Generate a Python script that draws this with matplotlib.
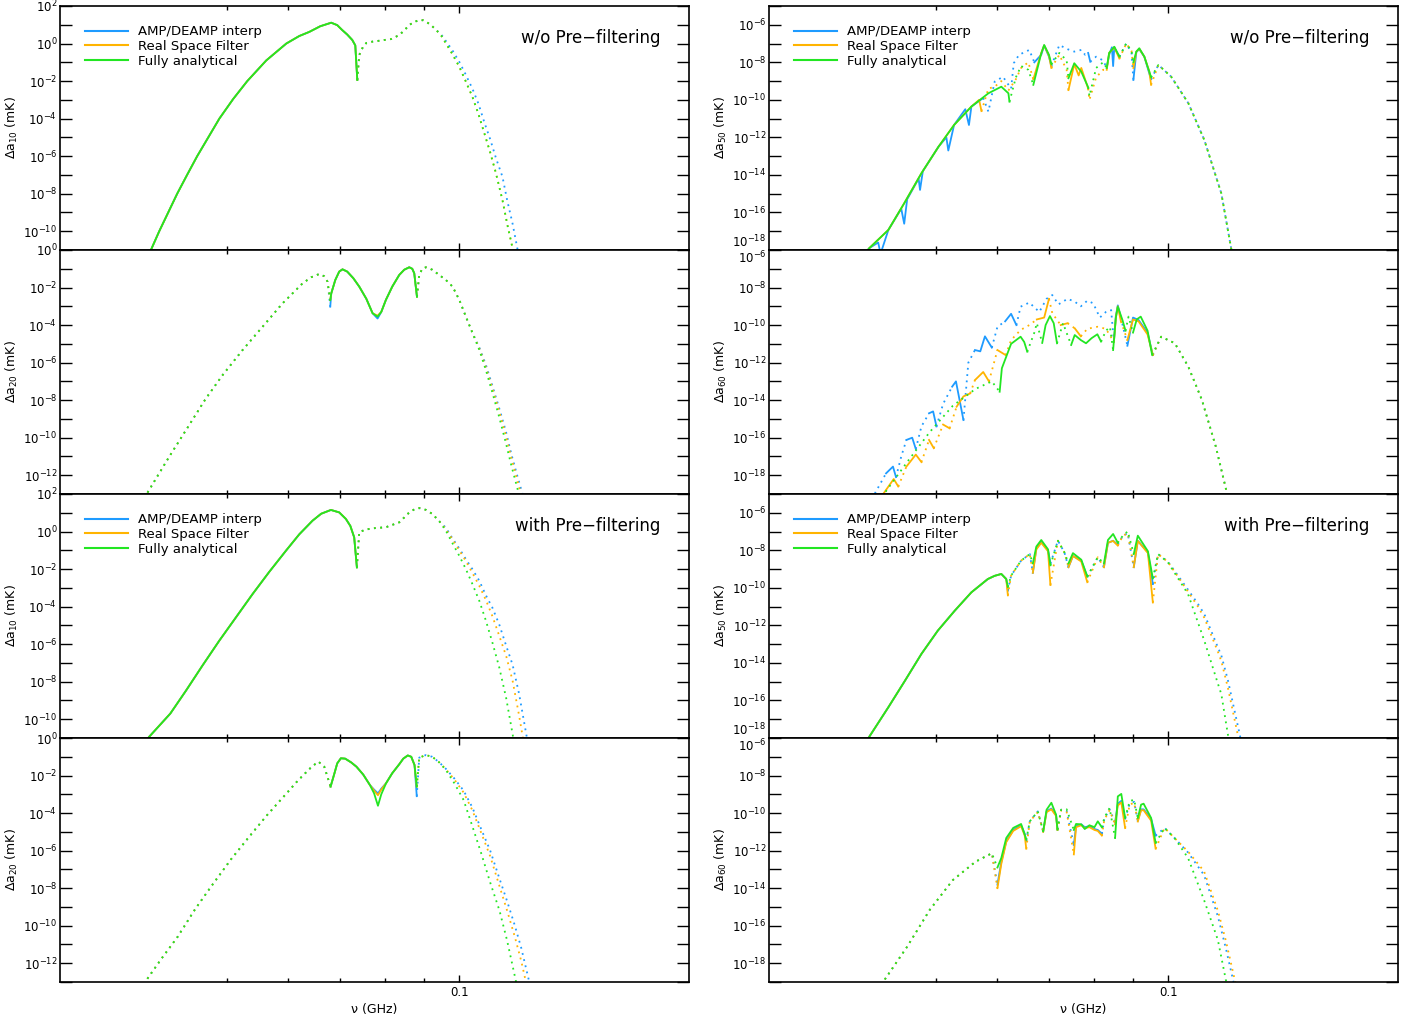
import numpy as np
import matplotlib
matplotlib.use("Agg")
import matplotlib.pyplot as plt
from matplotlib.lines import Line2D
from matplotlib.ticker import FixedLocator, FuncFormatter, NullLocator, NullFormatter

plt.rcParams['font.family'] = ['DejaVu Sans']
plt.rcParams['mathtext.fontset'] = 'dejavusans'

# values are log10 |delta a| in mK; '+' = positive (solid), '-' = negative (dotted)
BLUE, ORANGE, GREEN = '#1E9BFF', '#FFB400', '#22E622'
names = ["AMP/DEAMP interp", "Real Space Filter", "Fully analytical"]

# ---- left column, a10 without pre-filtering
L1_nu = [0.03957, 0.04077, 0.04188, 0.04302, 0.04431, 0.04567, 0.04721, 0.0488, 0.05087, 0.05305, 0.05615,
         0.05962, 0.06197, 0.06386, 0.06598, 0.06819, 0.06943, 0.07046, 0.07153, 0.07262, 0.07328, 0.07372,
         0.07415, 0.07504, 0.07574, 0.07709, 0.07873, 0.08161, 0.08357, 0.08484, 0.08612, 0.08741, 0.08872,
         0.0898, 0.0906, 0.09197, 0.09336, 0.09476, 0.0961, 0.09793, 0.1, 0.1018, 0.1040, 0.1059, 0.1078,
         0.1097, 0.1116, 0.1138, 0.1154, 0.1173, 0.1196]
L1_green = [-11.2, -10.0, -9.0, -8.0, -7.0, -6.0, -5.0, -4.0, -2.95, -2.0, -0.9, 0.0, 0.4, 0.62, 0.92, 1.11,
            0.98, 0.72, 0.48, 0.19, -0.1, -1.94,
            -0.61, -0.15, 0.03, 0.1, 0.15, 0.24, 0.45, 0.7, 0.99, 1.15, 1.25, 1.24, 1.16, 0.97, 0.72, 0.42,
            0.01, -0.55, -1.23, -1.95, -2.83, -3.75, -4.78, -5.8, -6.91, -8.34, -9.6, -10.91, -13.0]
L1_orange = list(L1_green)
L1_blue = L1_green[:37] + [0.48, 0.13, -0.35, -0.97, -1.6, -2.4, -3.2, -4.2, -5.1, -6.1, -7.1, -8.34, -9.6, -11.4]
L1_sign = "+" * 22 + "-" * 29

# ---- left column, a20 without pre-filtering
L2_nu = [0.03841, 0.03936, 0.04201, 0.0446, 0.04689, 0.04929, 0.05231, 0.05553, 0.05896, 0.06258, 0.06425,
         0.06579, 0.06679, 0.06745, 0.06799,
         0.0682, 0.06902, 0.06984, 0.07053, 0.07153, 0.07284, 0.07415, 0.07574, 0.07717, 0.07833, 0.0792,
         0.0803, 0.08185, 0.08357, 0.08484, 0.08612, 0.08689, 0.08741, 0.08812,
         0.08872, 0.08953, 0.09053, 0.09224, 0.0942, 0.0961, 0.09802, 0.1, 0.1020, 0.1040, 0.1062, 0.1083,
         0.1105, 0.1127, 0.1150, 0.1169, 0.1190, 0.1214]
L2_green = [-14.2, -12.93, -11.01, -9.32, -7.9, -6.66, -5.33, -4.09, -2.84, -1.78, -1.45, -1.28, -1.4, -1.69, -2.67,
            -2.31, -1.6, -1.15, -1.03, -1.15, -1.5, -1.95, -2.6, -3.37, -3.55, -3.3, -2.66, -1.95, -1.33, -1.05,
            -0.92, -1.0, -1.24, -2.49,
            -1.33, -1.0, -0.92, -1.05, -1.33, -1.6, -1.95, -2.65, -3.55, -4.4, -5.33, -6.4, -7.64, -8.9, -10.3,
            -11.5, -12.7, -14.2]
L2_blue = (L2_green[:14] + [-3.02] + L2_green[15:24] + [-3.65] + L2_green[25:44]
           + [-5.2, -6.12, -7.28, -8.43, -9.68, -10.9, -12.05, -13.3])
L2_orange = L2_green[:24] + [-3.5] + L2_green[25:44] + [-5.25, -6.25, -7.4, -8.6, -9.9, -11.1, -12.3, -13.6]
L2_sign = "-" * 15 + "+" * 19 + "-" * 18

# ---- left column, a10 with pre-filtering
L3_nu = [0.03841, 0.03957, 0.04214, 0.04416, 0.04638, 0.0488, 0.05133, 0.0539, 0.05665, 0.05956, 0.06197,
         0.06449, 0.06618, 0.06813, 0.06984, 0.07125, 0.0722, 0.07304, 0.07363,
         0.07415, 0.0755, 0.07717, 0.0803, 0.08357, 0.08484, 0.08612, 0.08741, 0.08872, 0.0906, 0.09232,
         0.0942, 0.0961, 0.09793, 0.1, 0.1020, 0.1040, 0.1062, 0.1083, 0.1104, 0.1127, 0.1151, 0.1173,
         0.1196, 0.1233]
L3_green = [-11.6, -10.93, -9.7, -8.48, -7.15, -5.81, -4.55, -3.33, -2.15, -1.02, -0.15, 0.58, 0.95, 1.15,
            1.02, 0.67, 0.3, -0.31, -1.91,
            -0.04, 0.1, 0.17, 0.23, 0.49, 0.75, 1.02, 1.18, 1.25, 1.15, 0.93, 0.55, 0.04, -0.6, -1.29, -2.0,
            -2.79, -3.7, -4.75, -5.9, -7.23, -8.9, -10.79, -13.0, -16.0]
L3_orange = L3_green[:31] + [0.12, -0.4, -1.0, -1.57, -2.2, -2.9, -3.65, -4.5, -5.55, -6.65, -7.95, -9.8, -13.0]
L3_blue = L3_green[:31] + [0.2, -0.35, -0.9, -1.47, -2.0, -2.63, -3.4, -4.05, -4.95, -6.1, -7.1, -8.65, -11.7]
L3_sign = "+" * 19 + "-" * 25

# ---- left column, a20 with pre-filtering
L4_nu = [0.03841, 0.03925, 0.04114, 0.04308, 0.04542, 0.04795, 0.05056, 0.05335, 0.05631, 0.05939, 0.06178,
         0.06433, 0.06563, 0.06679, 0.06806,
         0.06883, 0.06943, 0.07019, 0.0711, 0.07238, 0.07354, 0.07504, 0.07654, 0.07752, 0.07842, 0.0792,
         0.08037, 0.08183, 0.08357, 0.08459, 0.08573, 0.08663, 0.08748, 0.08807,
         0.08872, 0.09047, 0.09224, 0.0942, 0.09607, 0.09851, 0.1013, 0.1040, 0.1069, 0.1097, 0.1128, 0.1154,
         0.1181, 0.1204, 0.1233]
L4_green = [-14.1, -12.89, -11.7, -10.59, -9.1, -7.74, -6.45, -5.26, -4.1, -3.04, -2.25, -1.53, -1.26, -1.53, -2.59,
            -1.9, -1.35, -1.08, -1.1, -1.3, -1.53, -1.95, -2.5, -2.95, -3.61, -3.0, -2.4, -1.88, -1.4, -1.1,
            -0.93, -1.0, -1.44, -2.59,
            -1.05, -0.91, -1.0, -1.3, -1.7, -2.4, -3.3, -4.7, -6.2, -7.7, -9.2, -10.8, -12.7, -14.3, -16.0]
L4_blue = (L4_green[:23] + [-2.75, -2.95, -2.7] + L4_green[26:33] + [-3.1] + L4_green[34:38]
           + [-1.64, -2.15, -2.8, -3.7, -4.9, -6.0, -7.5, -8.7, -10.0, -11.2, -13.0])
L4_orange = (L4_green[:23] + [-2.8, -3.05, -2.75] + L4_green[26:38]
             + [-1.66, -2.2, -2.9, -3.85, -5.1, -6.3, -7.9, -9.2, -10.6, -11.9, -13.8])
L4_sign = "-" * 15 + "+" * 19 + "-" * 15

# ---- right column, a50 without pre-filtering
R1_green_nu = [0.0400, 0.0409, 0.0433, 0.0454, 0.0478, 0.0503, 0.0527, 0.0555, 0.0584, 0.0607, 0.0620, 0.0622,
               0.0634, 0.0644, 0.0658, 0.0668, 0.0684, 0.0690, 0.0700, 0.0705, 0.0722, 0.0738, 0.0742,
               0.0755, 0.0771, 0.0787, 0.0790, 0.0806, 0.0823, 0.0832, 0.0838, 0.0851, 0.0864,
               0.0882, 0.0896, 0.0901, 0.0909, 0.0917, 0.0931, 0.0945, 0.0950,
               0.0971, 0.1009, 0.1062, 0.1114, 0.1172, 0.1207, 0.1244]
R1_green = [-18.4, -17.9, -16.93, -15.51, -13.91, -12.5, -11.34, -10.36, -9.65, -9.3, -9.65, -10.1,
            -8.8, -8.2, -8.4, -9.2, -7.52, -7.08, -7.6, -8.1, -7.5, -7.9, -8.85,
            -8.05, -8.5, -9.33, -9.8, -8.3, -8.0, -8.3, -7.5, -7.17, -7.7,
            -6.99, -7.4, -8.0, -7.43, -7.25, -7.7, -8.5, -8.8,
            -8.14, -8.77, -10.18, -12.14, -14.98, -17.91, -20.0]
R1_green_sign = "+" * 12 + "-" * 4 + "+" * 4 + "-" * 3 + "+" * 3 + "-" * 4 + "+" * 3 + "-" * 3 + "+" * 5 + "-" * 7

R1_blue_nu = [0.0400, 0.0409, 0.0420, 0.0423, 0.0433, 0.0450, 0.0454, 0.0458, 0.0474, 0.0476, 0.0480, 0.0503,
              0.0515, 0.0518, 0.0527, 0.0545, 0.0551, 0.0555, 0.0575,
              0.0584, 0.0595, 0.0610, 0.0625, 0.0630, 0.0640, 0.0660, 0.0670,
              0.0684, 0.0690, 0.0700, 0.0705,
              0.0722, 0.0740, 0.0755, 0.0771, 0.0780, 0.0787,
              0.0792,
              0.0806, 0.0823, 0.0832,
              0.0838, 0.0845, 0.0848, 0.0851, 0.0864,
              0.0882, 0.0896, 0.0901,
              0.0909, 0.0917, 0.0931, 0.0945, 0.0950,
              0.0971, 0.1009, 0.1062, 0.1114, 0.1172, 0.1207, 0.1244]
R1_blue = [-18.4, -17.9, -17.6, -18.2, -16.93, -15.8, -16.6, -15.3, -14.2, -14.8, -13.8, -12.5,
           -12.0, -12.7, -11.34, -10.5, -11.34, -10.36, -9.9,
           -10.63, -9.03, -8.77, -9.4, -8.05, -7.6, -7.34, -8.0,
           -7.6, -7.1, -7.7, -8.2,
           -7.08, -7.3, -7.43, -7.34, -7.6, -7.5,
           -7.97,
           -7.7, -7.9, -8.3,
           -7.6, -7.2, -8.2, -7.2, -7.7,
           -7.0, -7.5, -8.94,
           -7.45, -7.3, -7.7, -8.6, -8.9,
           -8.14, -8.77, -10.18, -12.14, -14.98, -17.91, -20.0]
R1_blue_sign = "+" * 19 + "-" * 8 + "+" * 4 + "-" * 6 + "+" + "-" * 3 + "+" * 5 + "-" * 3 + "+" * 5 + "-" * 7

R1_orange_nu = [0.0400, 0.0409, 0.0433, 0.0454, 0.0478, 0.0503, 0.0527, 0.0555, 0.0568, 0.0572,
                0.0584, 0.0595, 0.0607, 0.0620, 0.0634, 0.0644, 0.0658, 0.0668,
                0.0684, 0.0690, 0.0700, 0.0705,
                0.0722, 0.0738, 0.0742,
                0.0755, 0.0765, 0.0771, 0.0787,
                0.0790, 0.0806, 0.0823, 0.0832,
                0.0838, 0.0851, 0.0864,
                0.0882, 0.0896, 0.0901,
                0.0909, 0.0917, 0.0931, 0.0945, 0.0950,
                0.0971, 0.1009, 0.1062, 0.1114, 0.1172, 0.1207, 0.1244]
R1_orange = [-18.4, -17.9, -16.93, -15.51, -13.91, -12.5, -11.34, -10.36, -10.0, -10.6,
             -9.4, -9.3, -9.0, -9.5, -8.9, -8.3, -8.0, -8.9,
             -7.5, -7.1, -7.65, -8.3,
             -7.6, -8.4, -9.48,
             -8.1, -8.7, -8.3, -9.4,
             -10.0, -8.8, -8.4, -8.4,
             -7.5, -7.2, -7.8,
             -7.0, -7.4, -8.3,
             -7.43, -7.28, -7.7, -8.5, -9.2,
             -8.14, -8.77, -10.18, -12.14, -14.98, -17.91, -20.0]
R1_orange_sign = "+" * 10 + "-" * 8 + "+" * 4 + "-" * 3 + "+" * 4 + "-" * 4 + "+" * 3 + "-" * 3 + "+" * 5 + "-" * 7

# ---- right column, a60 without pre-filtering
R2_blue_nu = [0.0410, 0.0416, 0.0430, 0.0439, 0.0443, 0.0450, 0.0457, 0.0465, 0.0470, 0.0478, 0.0489,
              0.0495, 0.0500, 0.0510, 0.0524, 0.0530, 0.0542, 0.0550, 0.0561, 0.0570, 0.0578, 0.0590,
              0.0600, 0.0614, 0.0625, 0.0635,
              0.0643, 0.0660, 0.0680, 0.0695, 0.0707, 0.0720, 0.0740, 0.0756, 0.0770, 0.0785, 0.0799,
              0.0815, 0.0830, 0.0843, 0.0850,
              0.0855, 0.0860, 0.0868, 0.0885, 0.0900, 0.0915, 0.0940, 0.0955,
              0.0979, 0.1020, 0.1062, 0.1106, 0.1153, 0.1192, 0.1220]
R2_blue = [-19.6, -18.96, -17.9, -17.54, -18.1, -17.0, -16.12, -16.0, -16.6, -15.4, -14.7,
           -14.6, -15.4, -14.2, -13.28, -13.0, -15.06, -12.0, -11.33, -11.4, -10.6, -11.2,
           -10.09, -9.8, -9.4, -10.0,
           -9.02, -8.8, -9.3, -8.6, -8.4, -8.9, -8.6, -8.75, -9.0, -8.7, -8.84,
           -9.6, -9.3, -9.2, -10.9,
           -9.5, -8.95, -9.6, -11.1, -9.6, -9.73, -10.4, -11.6,
           -10.62, -10.97, -12.22, -13.99, -16.48, -18.96, -20.5]
R2_blue_sign = ("-" * 3 + "+" * 2 + "-" * 2 + "+" * 2 + "-" * 2 + "+" * 2 + "-" * 2 + "+" * 2 + "-" * 2
                + "+" * 3 + "-" * 2 + "+" * 2 + "-" * 15 + "+" * 3 + "-" + "+" * 4 + "-" * 7)

R2_orange_nu = [0.0420, 0.0427, 0.0440, 0.0446, 0.0457, 0.0470, 0.0478, 0.0489, 0.0496, 0.0510, 0.0520,
                0.0531, 0.0542, 0.0553, 0.0561, 0.0575, 0.0585, 0.0600, 0.0615,
                0.0625, 0.0643, 0.0660, 0.0675, 0.0690, 0.0700, 0.0707, 0.0725, 0.0740, 0.0756, 0.0770,
                0.0785, 0.0809, 0.0830, 0.0850, 0.0855, 0.0860, 0.0868, 0.0885, 0.0900, 0.0915, 0.0940, 0.0955,
                0.0979, 0.1020, 0.1062, 0.1106, 0.1153, 0.1192, 0.1220]
R2_orange = [-19.6, -18.96, -18.2, -18.6, -17.54, -16.9, -17.3, -16.12, -16.56, -15.3, -15.5,
             -14.35, -13.8, -13.64, -12.93, -12.5, -13.0, -11.33, -11.6,
             -10.8, -10.26, -10.0, -9.7, -9.6, -8.6, -9.37, -10.0, -9.9, -10.17, -10.6,
             -10.2, -10.09, -10.2, -10.9, -9.6, -9.0, -9.8, -10.8, -9.7, -9.8, -10.5, -11.6,
             -10.62, -10.97, -12.22, -13.99, -16.48, -18.96, -20.5]
R2_orange_sign = ("-" * 2 + "+" * 2 + "-" + "+" * 2 + "-" + "+" + "-" + "+" + "-" + "+" * 2 + "-" + "+" * 2
                  + "-" + "+" + "-" * 4 + "+" * 2 + "-" * 2 + "+" + "-" + "+" + "-" * 4 + "+" * 3 + "-"
                  + "+" * 4 + "-" * 7)

R2_green_nu = [0.0420, 0.0428, 0.0458, 0.0490, 0.0525, 0.0562, 0.0590, 0.0604,
               0.0608, 0.0625, 0.0643, 0.0650, 0.0656, 0.0670, 0.0675, 0.0686,
               0.0693, 0.0702, 0.0710, 0.0717, 0.0730, 0.0748,
               0.0756, 0.0770, 0.0782, 0.0795, 0.0809, 0.0818, 0.0830, 0.0840, 0.0848,
               0.0855, 0.0860, 0.0872, 0.0880, 0.0888, 0.0900, 0.0910, 0.0921, 0.0940, 0.0953,
               0.0979, 0.1020, 0.1062, 0.1106, 0.1153, 0.1192, 0.1220]
R2_green = [-19.8, -18.96, -17.3, -15.7, -14.3, -13.4, -13.0, -13.55,
            -12.3, -11.0, -10.62, -10.9, -11.42, -10.4, -9.9, -10.95,
            -10.0, -9.52, -9.9, -10.97, -9.9, -11.06,
            -10.53, -10.8, -10.97, -10.7, -10.49, -10.88, -10.3, -10.1, -11.33,
            -9.6, -9.02, -9.73, -10.3, -9.55, -10.4, -9.7, -9.55, -10.3, -11.59,
            -10.62, -10.97, -12.22, -13.99, -16.48, -18.96, -20.5]
R2_green_sign = "-" * 8 + "+" * 5 + "-" * 3 + "+" * 4 + "-" * 2 + "+" * 6 + "-" * 3 + "+" * 4 + "-" * 2 + "+" * 4 + "-" * 7

# ---- right column, a50 with pre-filtering
R3_nu = [0.0400, 0.0409, 0.0433, 0.0455, 0.0478, 0.0502, 0.0528, 0.0555, 0.0583, 0.0595, 0.0607, 0.0616, 0.0619,
         0.0625, 0.0644, 0.0661, 0.0667, 0.0674, 0.0684, 0.0698, 0.0703, 0.0719, 0.0733, 0.0742,
         0.0752, 0.0771, 0.0785, 0.0810, 0.0825, 0.0835, 0.0848, 0.0860, 0.0873, 0.0886, 0.0902,
         0.0913, 0.0941, 0.0955, 0.0970, 0.0999, 0.1061, 0.1093, 0.1114, 0.1160, 0.1172, 0.1195, 0.1238, 0.1270]
R3_green = [-18.6, -17.93, -16.36, -14.95, -13.52, -12.28, -11.22, -10.24, -9.53, -9.36, -9.26, -9.53, -9.95,
            -9.35, -8.55, -8.2, -8.7, -7.8, -7.45, -7.95, -8.8, -7.49, -8.11, -8.7,
            -8.15, -8.5, -9.4, -8.37, -8.7, -7.45, -7.13, -7.6, -7.22, -6.99, -8.2,
            -7.22, -8.05, -9.5, -8.2, -8.64, -10.33, -11.85, -12.82, -15.1, -15.66, -17.79, -21.0, -23.0]
R3_blue = [-18.6, -17.93, -16.36, -14.95, -13.52, -12.28, -11.22, -10.24, -9.53, -9.36, -9.26, -9.53, -10.15,
           -9.35, -8.55, -8.2, -9.2, -7.9, -7.55, -8.0, -8.7, -7.49, -8.11, -8.9,
           -8.3, -8.55, -9.4, -8.37, -8.9, -7.6, -7.49, -7.7, -7.22, -7.1, -8.9,
           -7.49, -8.1, -9.8, -8.2, -8.6, -10.1, -10.86, -11.4, -13.17, -13.6, -14.9, -17.79, -20.0]
R3_orange = [-18.6, -17.93, -16.36, -14.95, -13.52, -12.28, -11.22, -10.24, -9.53, -9.36, -9.26, -9.53, -10.4,
             -9.35, -8.55, -8.2, -9.2, -7.95, -7.6, -8.05, -9.85, -7.49, -8.11, -8.9,
             -8.3, -8.6, -9.7, -8.37, -8.9, -7.6, -7.5, -7.75, -7.22, -7.1, -8.9,
             -7.5, -8.15, -10.78, -8.2, -8.62, -10.2, -11.0, -11.6, -13.4, -13.9, -15.3, -18.3, -20.5]
R3_sign = "+" * 13 + "-" * 4 + "+" * 4 + "-" * 3 + "+" * 3 + "-" * 2 + "+" * 3 + "-" * 3 + "+" * 3 + "-" * 10

# ---- right column, a60 with pre-filtering
R4_nu = [0.0415, 0.0428, 0.0458, 0.0490, 0.0525, 0.0562, 0.0590, 0.0600,
         0.0607, 0.0616, 0.0629, 0.0644, 0.0651, 0.0654, 0.0661, 0.0677, 0.0688,
         0.0695, 0.0705, 0.0715, 0.0718, 0.0726, 0.0738, 0.0754,
         0.0759, 0.0771, 0.0779, 0.0790, 0.0802, 0.0810, 0.0820, 0.0826, 0.0839, 0.0853,
         0.0860, 0.0869, 0.0879, 0.0891, 0.0903, 0.0913, 0.0922, 0.0929, 0.0950, 0.0963,
         0.0989, 0.1019, 0.1061, 0.1113, 0.1160, 0.1188, 0.1225]
R4_green = [-19.7, -18.89, -17.12, -15.16, -13.57, -12.59, -12.14, -12.9,
            -12.39, -11.33, -10.79, -10.58, -11.15, -11.42, -10.44, -9.91, -10.97,
            -9.82, -9.45, -10.09, -10.88, -9.82, -9.8, -10.9,
            -10.58, -10.6, -10.85, -10.65, -10.75, -10.44, -10.76, -10.26, -9.73, -11.33,
            -9.11, -8.98, -10.26, -9.37, -9.28, -10.26, -9.55, -9.5, -10.26, -11.59,
            -10.79, -11.33, -12.39, -14.63, -16.76, -18.89, -21.0]
R4_blue = [-19.7, -18.89, -17.12, -15.16, -13.57, -12.59, -12.14, -13.81,
           -12.6, -11.5, -10.9, -10.65, -11.1, -11.5, -10.44, -9.91, -10.97,
           -9.9, -9.76, -10.1, -10.88, -9.82, -9.9, -11.7,
           -10.7, -10.6, -10.75, -10.7, -10.85, -10.9, -11.1, -10.3, -9.8, -10.5,
           -9.5, -9.35, -10.3, -9.5, -9.4, -10.4, -9.8, -9.8, -10.3, -11.2,
           -10.79, -11.33, -12.1, -13.3, -15.5, -17.2, -19.6]
R4_orange = [-19.7, -18.89, -17.12, -15.16, -13.57, -12.59, -12.14, -14.0,
             -12.7, -11.55, -10.95, -10.7, -11.2, -11.9, -10.44, -9.95, -11.0,
             -9.95, -9.8, -10.15, -10.9, -9.85, -9.95, -12.2,
             -10.75, -10.65, -10.8, -10.75, -10.9, -10.95, -11.2, -10.35, -9.85, -10.6,
             -9.6, -9.43, -10.8, -9.55, -9.45, -10.45, -9.85, -9.85, -10.4, -11.9,
             -10.79, -11.33, -12.05, -13.1, -15.2, -16.8, -19.2]
R4_sign = "-" * 8 + "+" * 6 + "-" * 3 + "+" * 4 + "-" * 3 + "+" * 7 + "-" * 3 + "+" * 3 + "-" * 3 + "+" * 4 + "-" * 7


def draw_signed(ax, nu, lg, sg, color):
    nu = np.asarray(nu, float)
    amp = 10.0 ** np.asarray(lg, float)
    pos = np.array([c == '+' for c in sg])
    assert len(nu) == len(amp) == len(pos), (len(nu), len(amp), len(pos))
    n = len(nu)
    start = 0
    for i in range(1, n + 1):
        if i == n or pos[i] != pos[start]:
            j0 = max(start - 1, 0)
            ls = '-' if pos[start] else (0, (1, 2.5))
            ax.plot(nu[j0:i], amp[j0:i], color=color, lw=1.3, ls=ls)
            start = i


panels = [
    # col, row, y exponents, subscript, series, corner text
    (0, 0, (-11, 2), '10', [(L1_nu, L1_blue, L1_sign), (L1_nu, L1_orange, L1_sign), (L1_nu, L1_green, L1_sign)], 'w/o Pre\u2212filtering'),
    (0, 1, (-13, 0), '20', [(L2_nu, L2_blue, L2_sign), (L2_nu, L2_orange, L2_sign), (L2_nu, L2_green, L2_sign)], None),
    (0, 2, (-11, 2), '10', [(L3_nu, L3_blue, L3_sign), (L3_nu, L3_orange, L3_sign), (L3_nu, L3_green, L3_sign)], 'with Pre\u2212filtering'),
    (0, 3, (-13, 0), '20', [(L4_nu, L4_blue, L4_sign), (L4_nu, L4_orange, L4_sign), (L4_nu, L4_green, L4_sign)], None),
    (1, 0, (-18, -5), '50', [(R1_blue_nu, R1_blue, R1_blue_sign), (R1_orange_nu, R1_orange, R1_orange_sign),
                             (R1_green_nu, R1_green, R1_green_sign)], 'w/o Pre\u2212filtering'),
    (1, 1, (-19, -6), '60', [(R2_blue_nu, R2_blue, R2_blue_sign), (R2_orange_nu, R2_orange, R2_orange_sign),
                             (R2_green_nu, R2_green, R2_green_sign)], None),
    (1, 2, (-18, -5), '50', [(R3_nu, R3_blue, R3_sign), (R3_nu, R3_orange, R3_sign), (R3_nu, R3_green, R3_sign)], 'with Pre\u2212filtering'),
    (1, 3, (-19, -6), '60', [(R4_nu, R4_blue, R4_sign), (R4_nu, R4_orange, R4_sign), (R4_nu, R4_green, R4_sign)], None),
]

W, H = 1416, 1025
fig = plt.figure(figsize=(W / 100, H / 100), dpi=100)
col_x = [60, 769]
ax_w = 629
row_top = [6, 250, 494, 738]
ax_h = 244


def ylab(v, pos):
    k = int(round(np.log10(v)))
    return r'$10^{%d}$' % k if k % 2 == 0 else ''


for col, row, (lo, hi), sub, series, note in panels:
    left = col_x[col] / W
    bottom = 1 - (row_top[row] + ax_h) / H
    ax = fig.add_axes([left, bottom, ax_w / W, ax_h / H])
    for (nu, lg, sg), c in zip(series, [BLUE, ORANGE, GREEN]):
        draw_signed(ax, nu, lg, sg, c)

    ax.set_xscale('log')
    ax.set_yscale('log')
    ax.set_xlim(0.0303, 0.1988)
    ax.set_ylim(10.0 ** lo, 10.0 ** hi)
    ax.xaxis.set_major_locator(FixedLocator([0.1]))
    ax.xaxis.set_minor_locator(FixedLocator([0.05, 0.06, 0.07, 0.08, 0.09]))
    ax.xaxis.set_minor_formatter(NullFormatter())
    if row == 3:
        ax.xaxis.set_major_formatter(FuncFormatter(lambda v, p: '0.1'))
        ax.set_xlabel('\u03bd (GHz)', fontsize=9, labelpad=3)
    else:
        ax.xaxis.set_major_formatter(NullFormatter())
    ax.yaxis.set_major_locator(FixedLocator([10.0 ** k for k in range(lo, hi + 1)]))
    ax.yaxis.set_minor_locator(NullLocator())
    ax.yaxis.set_major_formatter(FuncFormatter(ylab))

    ax.tick_params(which='both', direction='in', top=True, right=True, labelsize=8.5, width=1.0)
    ax.tick_params(axis='y', which='major', length=8.5, pad=2)
    ax.tick_params(axis='x', which='major', length=5, pad=3)
    ax.tick_params(axis='x', which='minor', length=3)
    for sp in ax.spines.values():
        sp.set_linewidth(1.2)

    # labels sitting on a shared panel edge: nudge them apart as in the original
    yt = ax.yaxis.get_major_ticks()
    if col == 1 and row in (0, 2):
        yt[0].label1.set_verticalalignment('bottom')
    if col == 1 and row in (1, 3):
        yt[-1].label1.set_verticalalignment('top')

    ax.set_ylabel(r'$\Delta\mathrm{a}_{%s}$ (mK)' % sub, fontsize=9)
    ax.yaxis.set_label_coords(-0.063, 0.5)

    if note is not None:
        handles = [Line2D([], [], color=c, lw=1.5) for c in (BLUE, ORANGE, GREEN)]
        ax.legend(handles, names, loc='upper left', bbox_to_anchor=(0.031, 0.943), borderaxespad=0,
                  frameon=False, fontsize=9.5, handlelength=3.26, handletextpad=0.76, labelspacing=0.13)
        ax.text(0.955, 0.869, note, transform=ax.transAxes, ha='right', va='center', fontsize=12)

fig.savefig('out.png', dpi=100)
